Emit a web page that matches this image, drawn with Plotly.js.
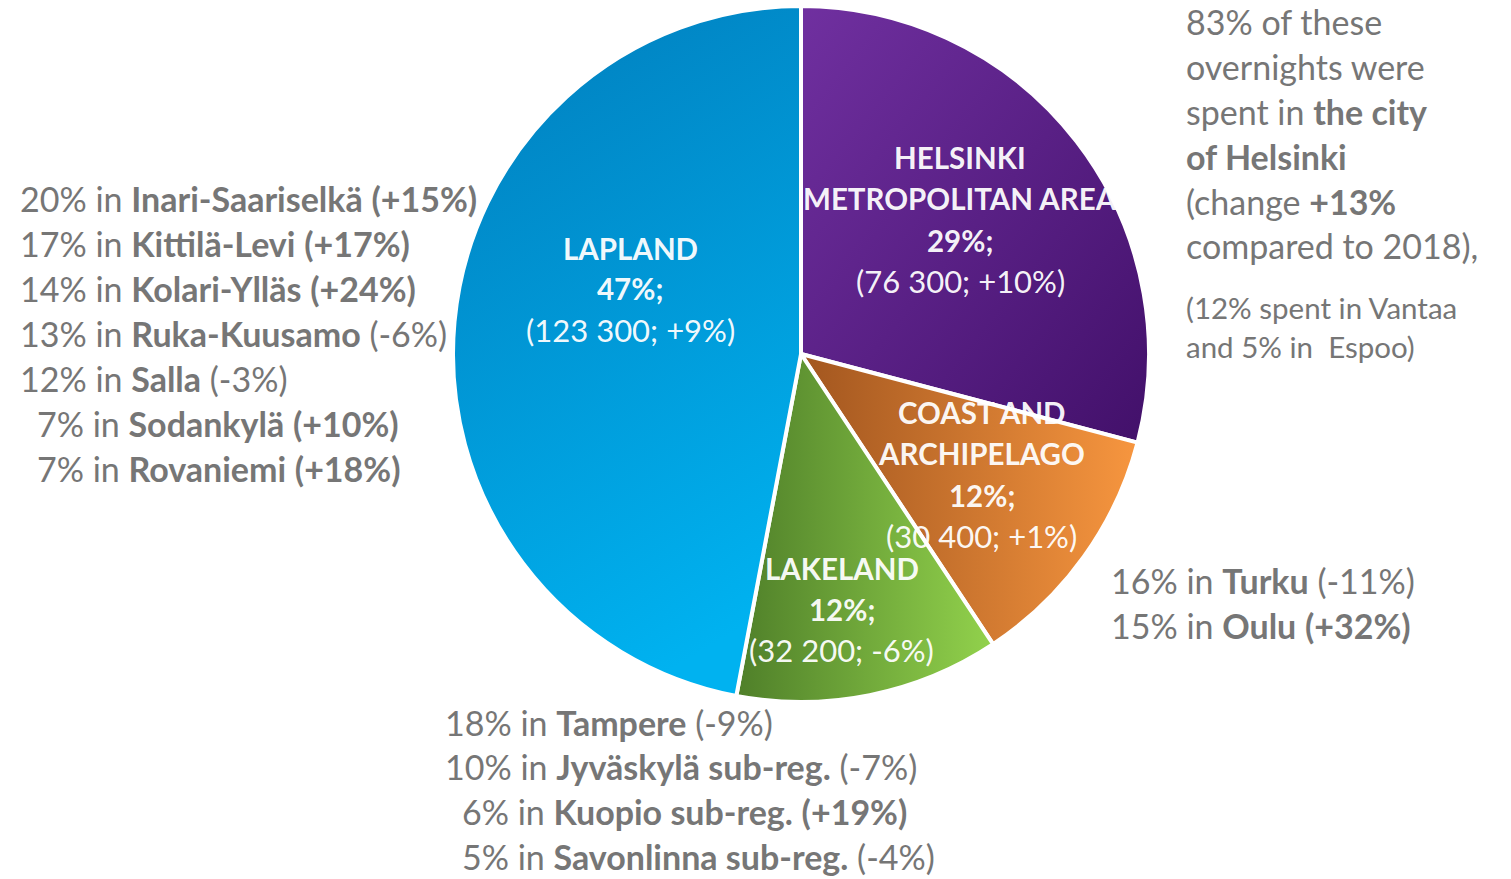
<!DOCTYPE html>
<html>
<head>
<meta charset="utf-8">
<script src="https://cdn.plot.ly/plotly-3.0.1.min.js"></script>
<style>html,body{margin:0;padding:0;background:#fff;}#chart{width:1511px;height:879px;}</style>
</head>
<body>
<div id="chart"></div>
<script>
// ---- data ----
const regions = ['Helsinki Metropolitan Area', 'Coast and Archipelago', 'Lakeland', 'Lapland'];
const regionLabelLines = [['HELSINKI', 'METROPOLITAN AREA'], ['COAST AND', 'ARCHIPELAGO'], ['LAKELAND'], ['LAPLAND']];
const overnights = [76300, 30400, 32200, 123300];
const regionChanges = ['+10%', '+1%', '-6%', '+9%'];

const laplandShares = ['20%', '17%', '14%', '13%', '12%', '7%', '7%'];
const laplandPlaces = ['Inari-Saariselkä', 'Kittilä-Levi', 'Kolari-Ylläs', 'Ruka-Kuusamo', 'Salla', 'Sodankylä', 'Rovaniemi'];
const laplandChanges = ['+15%', '+17%', '+24%', '-6%', '-3%', '+10%', '+18%'];

const coastShares = ['16%', '15%'];
const coastPlaces = ['Turku', 'Oulu'];
const coastChanges = ['-11%', '+32%'];

const lakeShares = ['18%', '10%', '6%', '5%'];
const lakePlaces = ['Tampere', 'Jyväskylä sub-reg.', 'Kuopio sub-reg.', 'Savonlinna sub-reg.'];
const lakeChanges = ['-9%', '-7%', '+19%', '-4%'];

const helsinkiNote = ['83% of these', 'overnights were', 'spent in <b>the city</b>', '<b>of Helsinki</b>', '(change <b>+13%</b>', 'compared to 2018),'];
const helsinkiNoteSmall = ['(12% spent in Vantaa', 'and 5% in  Espoo)'];

// ---- styles ----
const sliceColors = ['#5b1f8c', '#d9772c', '#6fb23e', '#0399d8'];
// gradient stops per slice: [x1,y1,x2,y2, startColor, endColor]
const sliceGradients = [
  [0, 0, 1, 1, '#7030a0', '#42106a'],
  [0, 0, 1, 0, '#a2561f', '#f7963f'],
  [0, 0, 1, 0, '#4f7f29', '#92d24c'],
  [0.2, 0, 0.5, 1, '#0180bf', '#00b2f0']
];
const FONT = 'Lato, "Open Sans", sans-serif';
const GREY = '#767676';
const W = 1511, H = 879;
const px = x => x / W;
const py = y => 1 - y / H;

const total = overnights.reduce((a, b) => a + b, 0);
const fmtNum = n => String(n).replace(/\B(?=(\d{3})+(?!\d))/g, ' ');

const annotations = [];
function addText(text, x, y, size, color, anchor) {
  annotations.push({
    text: text, x: px(x), y: py(y), xref: 'paper', yref: 'paper',
    xanchor: anchor || 'left', yanchor: 'middle', showarrow: false,
    font: {family: FONT, size: size, color: color}
  });
}

// inside labels
const labelPos = [[960, 158], [982, 413], [842, 568], [630, 248]];
const lineGap = 41;
regions.forEach((r, i) => {
  const lines = regionLabelLines[i].map(t => ['<b>' + t + '</b>', 29.5]);
  lines.push(['<b>' + Math.round(overnights[i] / total * 100) + '%;</b>', 29.5]);
  lines.push(['(' + fmtNum(overnights[i]) + '; ' + regionChanges[i] + ')', 31]);
  lines.forEach((t, k) => addText(t[0], labelPos[i][0], labelPos[i][1] + k * lineGap, t[1], 'rgba(255,255,255,0.96)', 'center'));
});

function areaLine(share, place, change) {
  const pad = share.length < 3 ? '\u2002' : '';
  const ch = change.startsWith('+') ? '<b>(' + change + ')</b>' : '(' + change + ')';
  return pad + share + ' in <b>' + place + '</b> ' + ch;
}
const BIG = 34;
laplandPlaces.forEach((p, i) => addText(areaLine(laplandShares[i], p, laplandChanges[i]), 18, 199 + i * 44.9, BIG, GREY));
coastPlaces.forEach((p, i) => addText(areaLine(coastShares[i], p, coastChanges[i]), 1109, 580 + i * 45, BIG, GREY));
lakePlaces.forEach((p, i) => addText(areaLine(lakeShares[i], p, lakeChanges[i]), 443, 722 + i * 44.7, BIG, GREY));
helsinkiNote.forEach((t, i) => addText(t, 1184, 22 + i * 44.8, BIG, GREY));
helsinkiNoteSmall.forEach((t, i) => addText(t, 1184, 307 + i * 39, 29.5, GREY));

const trace = {
  type: 'pie',
  labels: regions,
  values: overnights,
  sort: false,
  direction: 'clockwise',
  rotation: 0,
  textinfo: 'none',
  hoverinfo: 'none',
  marker: {colors: sliceColors, line: {color: '#ffffff', width: 4}},
  domain: {x: [px(453), px(1149)], y: [py(702), py(6)]}
};

const layout = {
  width: W, height: H,
  margin: {l: 0, r: 0, t: 0, b: 0},
  paper_bgcolor: '#ffffff',
  showlegend: false,
  annotations: annotations,
  font: {family: FONT}
};

function applyGradients(gd) {
  const svg = gd.querySelector('svg.main-svg');
  if (!svg) return;
  const NS = 'http://www.w3.org/2000/svg';
  let defs = svg.querySelector('defs');
  if (!defs) { defs = document.createElementNS(NS, 'defs'); svg.insertBefore(defs, svg.firstChild); }
  sliceGradients.forEach((g, i) => {
    const id = 'sliceGrad' + i;
    if (!svg.querySelector('#' + id)) {
      const lg = document.createElementNS(NS, 'linearGradient');
      lg.setAttribute('id', id);
      lg.setAttribute('x1', g[0]); lg.setAttribute('y1', g[1]);
      lg.setAttribute('x2', g[2]); lg.setAttribute('y2', g[3]);
      [[0, g[4]], [1, g[5]]].forEach(s => {
        const st = document.createElementNS(NS, 'stop');
        st.setAttribute('offset', s[0]);
        st.setAttribute('stop-color', s[1]);
        lg.appendChild(st);
      });
      defs.appendChild(lg);
    }
  });
  gd.querySelectorAll('g.slice path.surface').forEach((p, i) => {
    p.style.fill = 'url(#sliceGrad' + i + ')';
  });
}

Plotly.newPlot('chart', [trace], layout, {displayModeBar: false, staticPlot: true}).then(applyGradients);
</script>
</body>
</html>
